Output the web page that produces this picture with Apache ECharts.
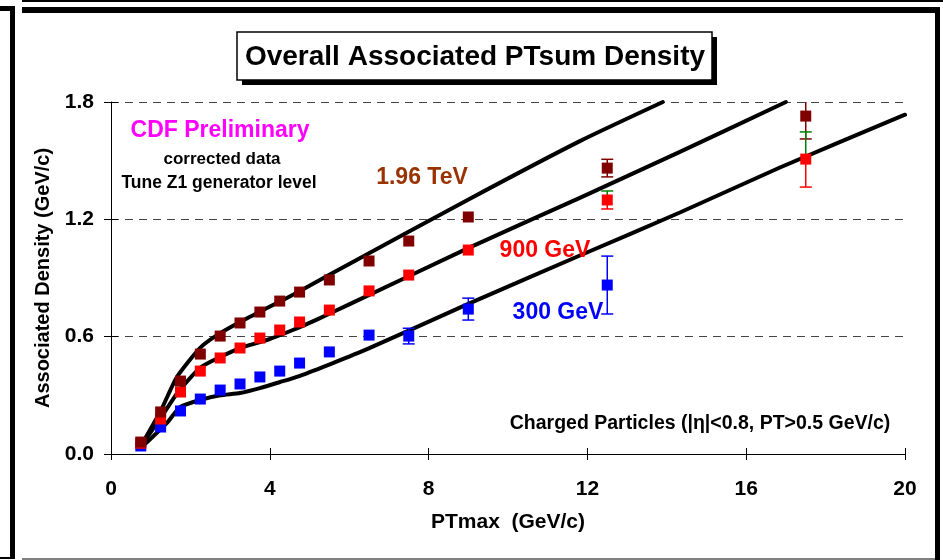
<!DOCTYPE html>
<html><head><meta charset="utf-8">
<script src="https://cdn.jsdelivr.net/npm/echarts@6/dist/echarts.min.js"></script>
<style>html,body{margin:0;padding:0;background:#fff}#c{width:943px;height:560px}</style>
</head><body><div id="c"></div>
<script>
// ---- data ----
const ptBins = [0.75,1.25,1.75,2.25,2.75,3.25,3.75,4.25,4.75,5.5,6.5,7.5,9,12.5,17.5];
const data196 = [0.061,0.215,0.373,0.511,0.603,0.670,0.726,0.782,0.828,0.890,0.987,1.089,1.212,1.462,1.728];
const data900 = [0.055,0.179,0.317,0.424,0.491,0.542,0.593,0.634,0.675,0.736,0.834,0.915,1.043,1.299,1.508];
const ptBins300 = [0.75,1.25,1.75,2.25,2.75,3.25,3.75,4.25,4.75,5.5,6.5,7.5,9,12.5];
const data300 = [0.041,0.138,0.220,0.281,0.327,0.358,0.394,0.424,0.465,0.522,0.608,0.603,0.741,0.864];

// error bars
const err196X = [12.5, 17.5], err196Lo = [1.417, 1.611], err196Hi = [1.507, 1.845];
const err900X = [12.5, 17.5], err900Lo = [1.253, 1.365], err900Hi = [1.345, 1.647];
const err300X = [7.5, 9, 12.5], err300Lo = [0.563, 0.685, 0.716], err300Hi = [0.643, 0.797, 1.012];

// Tune Z1 curves
const z1_196X = [0.75,1.25,1.66,2.24,2.67,3.25,3.83,4.43,5.0,6.0,8.97,11.81,13.9];
const z1_196Y = [0.04,0.22,0.394,0.542,0.608,0.675,0.736,0.798,0.86,0.972,1.298,1.60,1.80];
const z1_900X = [0.75,1.25,1.69,2.24,2.75,3.25,3.93,4.58,5.21,6.0,8.97,11.81,14.33,17.0];
const z1_900Y = [0.04,0.184,0.317,0.44,0.496,0.542,0.583,0.634,0.69,0.765,1.05,1.31,1.545,1.80];
const z1_300X = [0.75,1.41,1.74,2.24,2.75,3.25,3.75,4.26,4.76,5.59,6.45,8.97,11.81,14.33,16.85,20.0];
const z1_300Y = [0.03,0.159,0.24,0.276,0.30,0.312,0.337,0.368,0.40,0.465,0.536,0.765,1.015,1.235,1.465,1.735];

const xTicks = [0,4,8,12,16,20];
const yTicks = [0,0.6,1.2,1.8];

// ---- build ----
const FF = 'Liberation Sans, Arial, sans-serif';
const zip = (xs, ys) => xs.map((x, i) => [x, ys[i]]);
function halves(xs, lo, hi, centers, centerX) {
  const lower = [], upper = [];
  xs.forEach((x, i) => {
    const c = centers[centerX.indexOf(x)];
    lower.push([x, c, lo[i]]);
    upper.push([x, c, hi[i]]);
  });
  return {lower, upper};
}
const e196 = halves(err196X, err196Lo, err196Hi, data196, ptBins);
const e900 = halves(err900X, err900Lo, err900Hi, data900, ptBins);
const e300 = halves(err300X, err300Lo, err300Hi, data300, ptBins300);

function errSeries(rows, color) {
  return {
    type: 'custom', xAxisIndex: 0, yAxisIndex: 0, z: 3, silent: true, clip: true,
    renderItem: function (params, api) {
      const x = api.value(0), c = api.value(1), e = api.value(2);
      const p0 = api.coord([x, c]), p1 = api.coord([x, e]);
      const hw = 6;
      return {
        type: 'group',
        children: [
          {type: 'line', shape: {x1: p0[0], y1: p0[1], x2: p1[0], y2: p1[1]}, style: {stroke: color, lineWidth: 1.5}},
          {type: 'line', shape: {x1: p1[0] - hw, y1: p1[1], x2: p1[0] + hw, y2: p1[1]}, style: {stroke: color, lineWidth: 1.5}}
        ]
      };
    },
    encode: {x: 0, y: [1, 2]},
    data: rows
  };
}
function curve(xs, ys) {
  return {type: 'line', data: zip(xs, ys), smooth: 0.2, showSymbol: false, symbol: 'none',
    lineStyle: {color: '#000', width: 4, join: 'round', cap: 'round'}, z: 2, silent: true, clip: false};
}
function pts(xs, ys, color) {
  return {type: 'scatter', data: zip(xs, ys), symbol: 'rect', symbolSize: 11,
    itemStyle: {color: color, opacity: 1}, z: 4, silent: true};
}
function txt(x, y, s, size, color) {
  return {type: 'text', x: x, y: y, silent: true, z: 10,
    style: {text: s, font: 'bold ' + size + 'px ' + FF, fill: color, align: 'center', verticalAlign: 'middle', textAlign: 'center', textVerticalAlign: 'middle'}};
}

const axisLbl = {fontFamily: FF, fontWeight: 'bold', fontSize: 21, color: '#000'};
const option = {
  animation: false,
  backgroundColor: '#fff',
  grid: {left: 111, top: 102, width: 794, height: 352, containLabel: false},
  xAxis: [
    {type: 'value', min: 0, max: 20, interval: 4,
      axisLine: {show: true, onZero: false, lineStyle: {color: '#000', width: 1}},
      axisTick: {show: true, inside: false, length: 6, lineStyle: {color: '#000'}},
      axisLabel: Object.assign({margin: 25, formatter: v => xTicks.includes(v) ? String(v) : ''}, axisLbl),
      splitLine: {show: false},
      name: 'PTmax  (GeV/c)', nameLocation: 'middle', nameGap: 58,
      nameTextStyle: {fontFamily: FF, fontWeight: 'bold', fontSize: 21, color: '#000'}},
    {type: 'value', min: 0, max: 20, interval: 4, position: 'bottom',
      axisLine: {show: false}, axisTick: {show: true, inside: true, length: 6, lineStyle: {color: '#000'}},
      axisLabel: {show: false}, splitLine: {show: false}}
  ],
  yAxis: [
    {type: 'value', min: 0, max: 1.8, interval: 0.6,
      axisLine: {show: true, onZero: false, lineStyle: {color: '#000', width: 1}},
      axisTick: {show: true, inside: false, length: 7, lineStyle: {color: '#000'}},
      axisLabel: Object.assign({margin: 17, formatter: v => yTicks.some(t => Math.abs(t - v) < 1e-9) ? v.toFixed(1) : ''}, axisLbl),
      splitLine: {show: true, lineStyle: {color: '#444', type: [8, 6], width: 1}},
      name: 'Associated Density (GeV/c)', nameLocation: 'middle', nameGap: 58, nameRotate: 90,
      nameTextStyle: {fontFamily: FF, fontWeight: 'bold', fontSize: 20, color: '#000'}},
    {type: 'value', min: 0, max: 1.8, interval: 0.6, position: 'left',
      axisLine: {show: false}, axisTick: {show: true, inside: true, length: 7, lineStyle: {color: '#000'}},
      axisLabel: {show: false}, splitLine: {show: false}}
  ],
  series: [
    curve(z1_196X, z1_196Y),
    curve(z1_900X, z1_900Y),
    curve(z1_300X, z1_300Y),
    errSeries(e196.lower, '#800000'), errSeries(e196.upper, '#800000'),
    errSeries(e900.lower, '#ff0000'), errSeries(e900.upper, '#008000'),
    errSeries(e300.lower, '#0000ff'), errSeries(e300.upper, '#0000ff'),
    pts(ptBins300, data300, '#0000ff'),
    pts(ptBins, data900, '#ff0000'),
    pts(ptBins, data196, '#800000')
  ],
  graphic: [
    // frame
    {type: 'rect', shape: {x: 22, y: 0, width: 921, height: 2}, style: {fill: '#000'}, silent: true},
    {type: 'rect', shape: {x: 22, y: 7, width: 918, height: 6}, style: {fill: '#000'}, silent: true},
    {type: 'rect', shape: {x: 935, y: 7, width: 5, height: 553}, style: {fill: '#000'}, silent: true},
    {type: 'rect', shape: {x: 0, y: 6, width: 15, height: 5}, style: {fill: '#000'}, silent: true},
    {type: 'rect', shape: {x: 10, y: 6, width: 5, height: 553}, style: {fill: '#000'}, silent: true},
    {type: 'rect', shape: {x: 0, y: 557, width: 15, height: 2}, style: {fill: '#000'}, silent: true},
    {type: 'rect', shape: {x: 22, y: 558, width: 913, height: 2}, style: {fill: '#808080'}, silent: true},
    // title box
    {type: 'rect', shape: {x: 242, y: 37, width: 475, height: 48}, style: {fill: '#000'}, silent: true},
    {type: 'rect', shape: {x: 237, y: 32, width: 475, height: 48}, style: {fill: '#fff', stroke: '#000', lineWidth: 1.5}, silent: true},
    txt(475, 57, 'Overall Associated PTsum Density', 28, '#000'),
    // annotations
    txt(220, 131, 'CDF Preliminary', 23, '#ff00ff'),
    txt(222, 159, 'corrected data', 17, '#000'),
    txt(219, 183, 'Tune Z1 generator level', 17.5, '#000'),
    txt(422, 178, '1.96 TeV', 23, '#993300'),
    txt(545, 251, '900 GeV', 23, '#ff0000'),
    txt(558, 313, '300 GeV', 23, '#0000ff'),
    txt(700, 424, 'Charged Particles (|\u03b7|<0.8, PT>0.5 GeV/c)', 19.5, '#000')
  ]
};
const chart = echarts.init(document.getElementById('c'), null, {renderer: 'canvas'});
chart.setOption(option);
</script></body></html>
